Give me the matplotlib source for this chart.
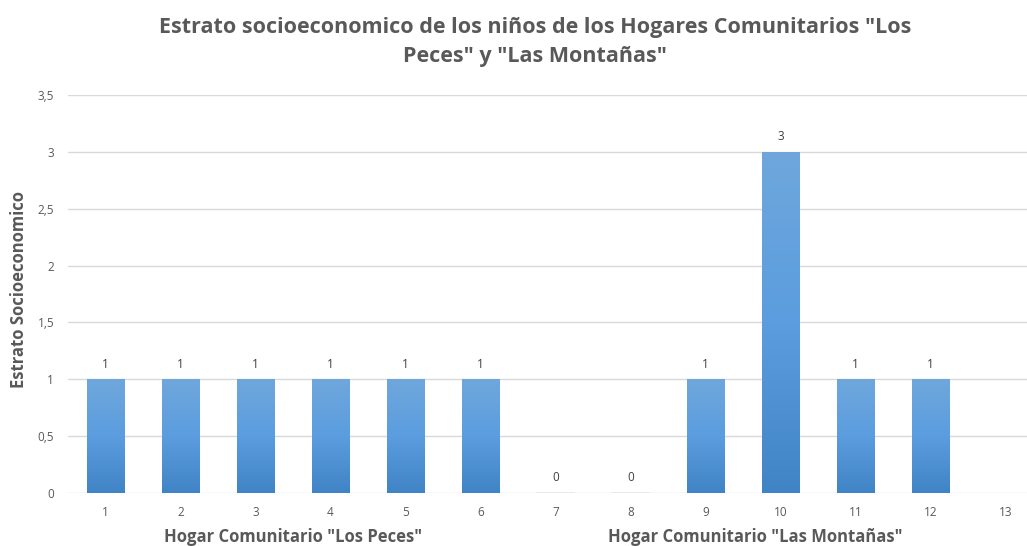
import matplotlib
matplotlib.use("Agg")
import matplotlib.pyplot as plt
import numpy as np
from matplotlib.colors import LinearSegmentedColormap

categories = [str(i) for i in range(1, 14)]
values = [1, 1, 1, 1, 1, 1, 0, 0, 1, 3, 1, 1, None]
yticks = [0, 0.5, 1, 1.5, 2, 2.5, 3, 3.5]
ytick_labels = ["0", "0,5", "1", "1,5", "2", "2,5", "3", "3,5"]
groups = ['Hogar Comunitario "Los Peces"', 'Hogar Comunitario "Las Montañas"']
group_centers = [3.5, 9.67]
title = 'Estrato socioeconomico de los niños de los Hogares Comunitarios "Los\nPeces" y "Las Montañas"'
ylabel = "Estrato Socioeconomico"

W, H = 1027, 546
fig = plt.figure(figsize=(W / 100, H / 100), dpi=100)
plt.rcParams['font.family'] = ['Open Sans', 'DejaVu Sans']
txt = '#595959'

left, right, bottom, top = 68, 1043, 493, 95
ax = fig.add_axes([left / W, 1 - bottom / H, (right - left) / W, (bottom - top) / H])
ax.set_xlim(0.5, 13.5)
ax.set_ylim(0, 3.5)
for s in ax.spines.values():
    s.set_visible(False)
ax.set_yticks(yticks)
ax.set_yticklabels(ytick_labels, fontsize=8.5, color=txt)
ax.yaxis.grid(True, color='#d9d9d9', linewidth=1)
ax.set_axisbelow(True)
x = np.arange(1, 14)
ax.set_xticks(x)
ax.set_xticklabels(categories, fontsize=8.5, color=txt)
ax.tick_params(length=0)
ax.tick_params(axis='x', pad=9)
ax.tick_params(axis='y', pad=10)

grad = np.linspace(0, 1, 256).reshape(-1, 1)
cmap = LinearSegmentedColormap.from_list('b', ['#4184c6', '#5b9ddf', '#6fa7dc'])
for xi, v in zip(x, values):
    if v is None:
        continue
    if v > 0:
        bars = ax.bar(xi, v, width=0.5, color='none', edgecolor='#c9c9c9', linewidth=0.6, zorder=2)
        im = ax.imshow(grad, extent=(xi - 0.25, xi + 0.25, 0, v), aspect='auto', cmap=cmap,
                       origin='lower', zorder=3, interpolation='bicubic')
        im.set_clip_path(bars[0])
    else:
        ax.plot([xi - 0.25, xi + 0.25], [0, 0], color='#e6e6e6', lw=1.2, zorder=3)
    ax.annotate(str(v), (xi, v), xytext=(0, 11), textcoords='offset points',
                ha='center', va='center', fontsize=8.5, color='#404040')
ax.set_xlim(0.5, 13.5)
ax.set_ylim(0, 3.5)

for g, xc in zip(groups, group_centers):
    ax.annotate(g, (xc, 0), xycoords=('data', 'axes fraction'), xytext=(0, -32),
                textcoords='offset points', ha='center', va='center', fontsize=12,
                fontweight='bold', color=txt, annotation_clip=False)

fig.text(19 / W, 1 - 290 / H, ylabel, rotation=90, ha='center', va='center',
         fontsize=12, fontweight='bold', color=txt)
fig.text(535 / W, 1 - 42 / H, title, ha='center', va='center', fontsize=15.5,
         fontweight='bold', color=txt, linespacing=1.5)

fig.savefig('out.png', dpi=100)
